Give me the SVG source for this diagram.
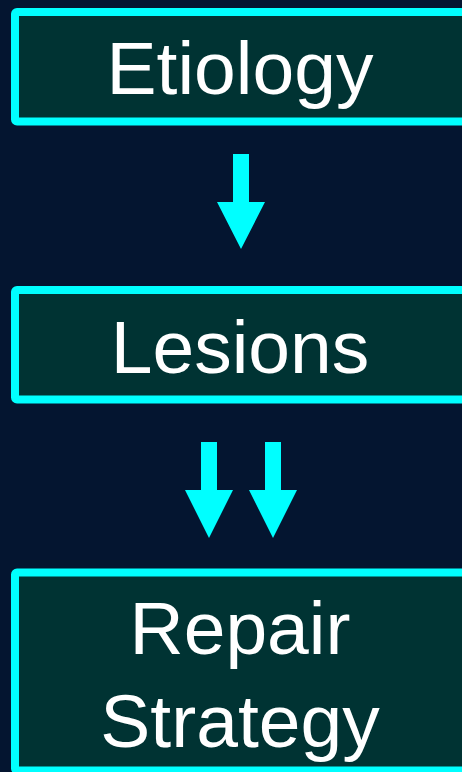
<svg xmlns="http://www.w3.org/2000/svg" width="462" height="772" viewBox="0 0 462 772">
  <style>
    .box { fill: #003333; stroke: #00FFFF; stroke-width: 8; }
    .label { fill: #FFFFFF; font-family: "Liberation Sans", Arial, sans-serif; font-size: 75px; text-anchor: middle; }
    .arrow { fill: #00FFFF; }
  </style>
  <rect width="462" height="772" fill="#041530"/>

  <g id="etiology">
    <rect class="box" x="15" y="12" width="470" height="109.5" rx="2"/>
    <text class="label" x="240" y="94">Etiology</text>
  </g>

  <g id="lesions">
    <rect class="box" x="15" y="290" width="470" height="109.5" rx="2"/>
    <text class="label" x="240" y="373">Lesions</text>
  </g>

  <g id="repair-strategy">
    <rect class="box" x="15" y="572.5" width="470" height="198" rx="2"/>
    <text class="label" x="240" y="654">Repair</text>
    <text class="label" x="240" y="747">Strategy</text>
  </g>

  <g id="connectors">
    <polygon class="arrow" points="233,154 249,154 249,202 265,202 241,249 217,202 233,202"/>
    <polygon class="arrow" points="201,442 217,442 217,490 233,490 209,538 185,490 201,490"/>
    <polygon class="arrow" points="265,442 281,442 281,490 297,490 273,538 249,490 265,490"/>
  </g>
</svg>
